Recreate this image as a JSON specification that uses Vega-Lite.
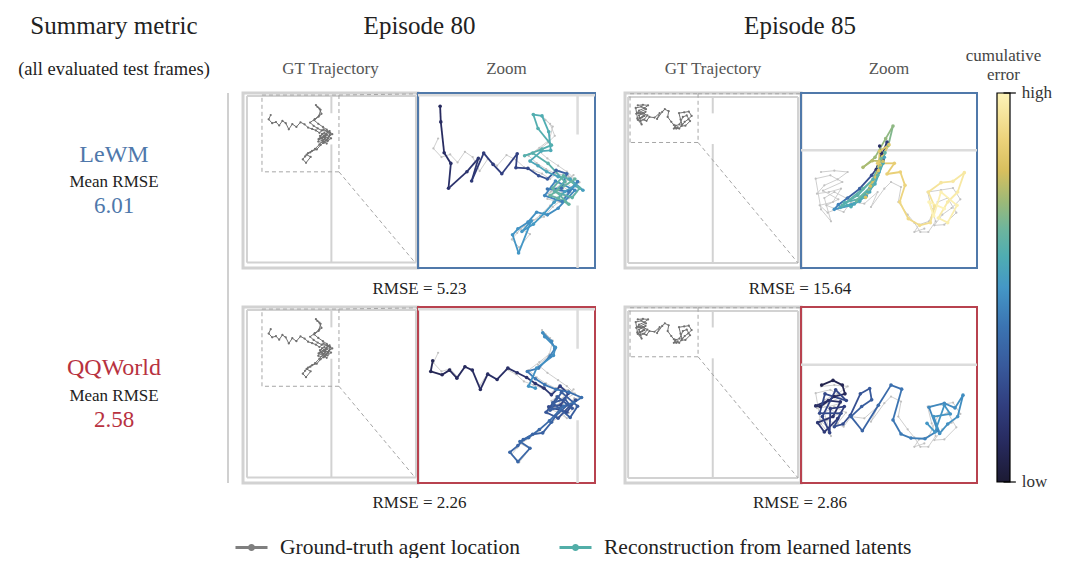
{
"$schema":"https://vega.github.io/schema/vega-lite/v6.json",
"padding":0,
"bounds":"flush",
"columns":6,
"spacing":{"row":39,"column":0},
"config":{"view":{"stroke":null},"font":"Liberation Serif"},
"datasets":{
"frame80":[{"x":-128,"y":-11,"x2":1072,"y2":1190}],
"frame85":[{"x":-39,"y":144,"x2":1327,"y2":1502}],
"walls80":[{"x":-101,"y":10,"x2":1058,"y2":10},{"x":-101,"y":1153,"x2":1058,"y2":1153},{"x":-101,"y":10,"x2":-101,"y2":1153},{"x":1058,"y":10,"x2":1058,"y2":1153},{"x":478,"y":10,"x2":478,"y2":128},{"x":478,"y":342,"x2":478,"y2":1153}],
"box80":[{"x":2,"y":3,"x2":530,"y2":3},{"x":530,"y":3,"x2":530,"y2":530},{"x":530,"y":530,"x2":2,"y2":530},{"x":2,"y":530,"x2":2,"y2":3},{"x":530,"y":530,"x2":1052,"y2":1153},{"x":530,"y":3,"x2":1072,"y2":-5}],
"walls85":[{"x":-15,"y":175,"x2":1304,"y2":175},{"x":-15,"y":1463,"x2":1304,"y2":1463},{"x":-15,"y":175,"x2":-15,"y2":1463},{"x":1304,"y":175,"x2":1304,"y2":1463},{"x":642,"y":175,"x2":642,"y2":302},{"x":642,"y":540,"x2":642,"y2":1463}],
"box85":[{"x":0,"y":150,"x2":528,"y2":150},{"x":528,"y":150,"x2":528,"y2":528},{"x":528,"y":528,"x2":0,"y2":528},{"x":0,"y":528,"x2":0,"y2":150},{"x":528,"y":528,"x2":1304,"y2":1463},{"x":528,"y":150,"x2":1327,"y2":150}],
"gt80":[{"t":0,"x":62,"y":140},{"t":1,"x":48,"y":170},{"t":2,"x":72,"y":196},{"t":3,"x":98,"y":188},{"t":4,"x":120,"y":212},{"t":5,"x":142,"y":180},{"t":6,"x":165,"y":196},{"t":7,"x":186,"y":238},{"t":8,"x":210,"y":202},{"t":9,"x":238,"y":222},{"t":10,"x":266,"y":190},{"t":11,"x":294,"y":204},{"t":12,"x":318,"y":226},{"t":13,"x":346,"y":236},{"t":14,"x":372,"y":246},{"t":15,"x":396,"y":262},{"t":16,"x":424,"y":238},{"t":17,"x":452,"y":256},{"t":18,"x":434,"y":292},{"t":19,"x":398,"y":300},{"t":20,"x":444,"y":314},{"t":21,"x":468,"y":276},{"t":22,"x":426,"y":332},{"t":23,"x":388,"y":322},{"t":24,"x":414,"y":270},{"t":25,"x":458,"y":302},{"t":26,"x":404,"y":346},{"t":27,"x":378,"y":376},{"t":28,"x":346,"y":386},{"t":29,"x":318,"y":402},{"t":30,"x":298,"y":424},{"t":31,"x":282,"y":444},{"t":32,"x":304,"y":468},{"t":33,"x":336,"y":428},{"t":34,"x":308,"y":412},{"t":35,"x":334,"y":396},{"t":36,"x":366,"y":372},{"t":37,"x":396,"y":342},{"t":38,"x":432,"y":304},{"t":39,"x":462,"y":286},{"t":40,"x":484,"y":272},{"t":41,"x":450,"y":252},{"t":42,"x":412,"y":246},{"t":43,"x":384,"y":232},{"t":44,"x":356,"y":214},{"t":45,"x":332,"y":192},{"t":46,"x":364,"y":168},{"t":47,"x":394,"y":144},{"t":48,"x":404,"y":104},{"t":49,"x":382,"y":84},{"t":50,"x":372,"y":72},{"t":51,"x":396,"y":96},{"t":52,"x":410,"y":132},{"t":53,"x":390,"y":152},{"t":54,"x":360,"y":176},{"t":55,"x":388,"y":200},{"t":56,"x":420,"y":222},{"t":57,"x":446,"y":240},{"t":58,"x":470,"y":262},{"t":59,"x":440,"y":280},{"t":60,"x":410,"y":300},{"t":61,"x":452,"y":320},{"t":62,"x":476,"y":300},{"t":63,"x":430,"y":262},{"t":64,"x":400,"y":284},{"t":65,"x":446,"y":336},{"t":66,"x":418,"y":318},{"t":67,"x":390,"y":306},{"t":68,"x":466,"y":250},{"t":69,"x":424,"y":286}],
"lewm80":[{"t":0,"x":68,"y":43,"e":0.10},{"t":1,"x":70,"y":90,"e":0.11},{"t":2,"x":80,"y":183,"e":0.12},{"t":3,"x":100,"y":215,"e":0.13},{"t":4,"x":93,"y":290,"e":0.14},{"t":5,"x":148,"y":240,"e":0.15},{"t":6,"x":182,"y":200,"e":0.16},{"t":7,"x":162,"y":268,"e":0.17},{"t":8,"x":198,"y":184,"e":0.18},{"t":9,"x":226,"y":218,"e":0.19},{"t":10,"x":252,"y":246,"e":0.20},{"t":11,"x":298,"y":186,"e":0.21},{"t":12,"x":294,"y":228,"e":0.22},{"t":13,"x":330,"y":230,"e":0.24},{"t":14,"x":362,"y":252,"e":0.27},{"t":15,"x":388,"y":262,"e":0.30},{"t":16,"x":414,"y":236,"e":0.33},{"t":17,"x":446,"y":246,"e":0.36},{"t":18,"x":430,"y":290,"e":0.38},{"t":19,"x":388,"y":292,"e":0.40},{"t":20,"x":452,"y":300,"e":0.42},{"t":21,"x":478,"y":270,"e":0.43},{"t":22,"x":432,"y":330,"e":0.44},{"t":23,"x":380,"y":312,"e":0.45},{"t":24,"x":412,"y":268,"e":0.46},{"t":25,"x":470,"y":296,"e":0.46},{"t":26,"x":420,"y":350,"e":0.47},{"t":27,"x":388,"y":370,"e":0.47},{"t":28,"x":356,"y":362,"e":0.48},{"t":29,"x":330,"y":392,"e":0.48},{"t":30,"x":300,"y":412,"e":0.49},{"t":31,"x":284,"y":430,"e":0.49},{"t":32,"x":302,"y":485,"e":0.50},{"t":33,"x":340,"y":388,"e":0.50},{"t":34,"x":312,"y":420,"e":0.50},{"t":35,"x":346,"y":398,"e":0.51},{"t":36,"x":378,"y":366,"e":0.51},{"t":37,"x":408,"y":332,"e":0.52},{"t":38,"x":440,"y":300,"e":0.52},{"t":39,"x":470,"y":282,"e":0.53},{"t":40,"x":494,"y":296,"e":0.53},{"t":41,"x":456,"y":262,"e":0.54},{"t":42,"x":420,"y":255,"e":0.54},{"t":43,"x":386,"y":240,"e":0.55},{"t":44,"x":360,"y":222,"e":0.55},{"t":45,"x":336,"y":208,"e":0.56},{"t":46,"x":370,"y":178,"e":0.57},{"t":47,"x":398,"y":176,"e":0.57},{"t":48,"x":392,"y":120,"e":0.58},{"t":49,"x":372,"y":72,"e":0.58},{"t":50,"x":346,"y":68,"e":0.59},{"t":51,"x":360,"y":110,"e":0.59},{"t":52,"x":400,"y":160,"e":0.59},{"t":53,"x":372,"y":172,"e":0.60},{"t":54,"x":320,"y":192,"e":0.60},{"t":55,"x":344,"y":184,"e":0.60},{"t":56,"x":390,"y":215,"e":0.61},{"t":57,"x":440,"y":270,"e":0.61},{"t":58,"x":410,"y":300,"e":0.61},{"t":59,"x":462,"y":318,"e":0.62},{"t":60,"x":484,"y":290,"e":0.62},{"t":61,"x":436,"y":252,"e":0.62},{"t":62,"x":404,"y":290,"e":0.63},{"t":63,"x":452,"y":338,"e":0.63},{"t":64,"x":420,"y":320,"e":0.63},{"t":65,"x":396,"y":312,"e":0.64},{"t":66,"x":470,"y":262,"e":0.64}],
"qq80":[{"t":0,"x":46,"y":164,"e":0.08},{"t":1,"x":40,"y":196,"e":0.08},{"t":2,"x":74,"y":206,"e":0.09},{"t":3,"x":96,"y":192,"e":0.09},{"t":4,"x":118,"y":216,"e":0.10},{"t":5,"x":142,"y":182,"e":0.10},{"t":6,"x":164,"y":192,"e":0.11},{"t":7,"x":188,"y":250,"e":0.11},{"t":8,"x":210,"y":204,"e":0.12},{"t":9,"x":238,"y":220,"e":0.12},{"t":10,"x":270,"y":186,"e":0.13},{"t":11,"x":298,"y":200,"e":0.13},{"t":12,"x":326,"y":214,"e":0.14},{"t":13,"x":352,"y":232,"e":0.15},{"t":14,"x":378,"y":246,"e":0.16},{"t":15,"x":400,"y":266,"e":0.18},{"t":16,"x":426,"y":240,"e":0.20},{"t":17,"x":450,"y":262,"e":0.22},{"t":18,"x":428,"y":296,"e":0.24},{"t":19,"x":392,"y":302,"e":0.25},{"t":20,"x":446,"y":318,"e":0.26},{"t":21,"x":472,"y":282,"e":0.27},{"t":22,"x":420,"y":336,"e":0.28},{"t":23,"x":384,"y":318,"e":0.29},{"t":24,"x":418,"y":272,"e":0.30},{"t":25,"x":462,"y":306,"e":0.30},{"t":26,"x":440,"y":278,"e":0.30},{"t":27,"x":404,"y":290,"e":0.31},{"t":28,"x":456,"y":334,"e":0.31},{"t":29,"x":478,"y":300,"e":0.31},{"t":30,"x":430,"y":258,"e":0.32},{"t":31,"x":396,"y":312,"e":0.32},{"t":32,"x":448,"y":296,"e":0.32},{"t":33,"x":412,"y":330,"e":0.33},{"t":34,"x":400,"y":348,"e":0.33},{"t":35,"x":374,"y":380,"e":0.33},{"t":36,"x":344,"y":384,"e":0.34},{"t":37,"x":316,"y":400,"e":0.34},{"t":38,"x":300,"y":418,"e":0.34},{"t":39,"x":276,"y":438,"e":0.35},{"t":40,"x":300,"y":466,"e":0.35},{"t":41,"x":336,"y":426,"e":0.35},{"t":42,"x":306,"y":406,"e":0.36},{"t":43,"x":332,"y":394,"e":0.36},{"t":44,"x":364,"y":370,"e":0.36},{"t":45,"x":394,"y":344,"e":0.37},{"t":46,"x":436,"y":300,"e":0.37},{"t":47,"x":466,"y":290,"e":0.38},{"t":48,"x":490,"y":274,"e":0.38},{"t":49,"x":452,"y":258,"e":0.39},{"t":50,"x":414,"y":250,"e":0.40},{"t":51,"x":380,"y":236,"e":0.40},{"t":52,"x":352,"y":218,"e":0.41},{"t":53,"x":328,"y":196,"e":0.42},{"t":54,"x":362,"y":186,"e":0.43},{"t":55,"x":396,"y":150,"e":0.44},{"t":56,"x":410,"y":128,"e":0.45},{"t":57,"x":400,"y":106,"e":0.46},{"t":58,"x":374,"y":80,"e":0.47},{"t":59,"x":380,"y":92,"e":0.47},{"t":60,"x":412,"y":124,"e":0.48},{"t":61,"x":406,"y":148,"e":0.48},{"t":62,"x":356,"y":186,"e":0.48},{"t":63,"x":332,"y":240,"e":0.49},{"t":64,"x":352,"y":246,"e":0.49}],
"gt85":[{"t":0,"x":60,"y":240},{"t":1,"x":100,"y":236},{"t":2,"x":140,"y":240},{"t":3,"x":110,"y":262},{"t":4,"x":70,"y":280},{"t":5,"x":48,"y":305},{"t":6,"x":84,"y":300},{"t":7,"x":120,"y":290},{"t":8,"x":96,"y":330},{"t":9,"x":56,"y":340},{"t":10,"x":80,"y":362},{"t":11,"x":110,"y":350},{"t":12,"x":135,"y":318},{"t":13,"x":100,"y":300},{"t":14,"x":70,"y":318},{"t":15,"x":90,"y":388},{"t":16,"x":60,"y":352},{"t":17,"x":44,"y":260},{"t":18,"x":88,"y":250},{"t":19,"x":124,"y":270},{"t":20,"x":66,"y":296},{"t":21,"x":112,"y":322},{"t":22,"x":76,"y":340},{"t":23,"x":128,"y":360},{"t":24,"x":150,"y":330},{"t":25,"x":190,"y":335},{"t":26,"x":230,"y":300},{"t":27,"x":210,"y":345},{"t":28,"x":250,"y":290},{"t":29,"x":270,"y":270},{"t":30,"x":300,"y":285},{"t":31,"x":292,"y":330},{"t":32,"x":320,"y":368},{"t":33,"x":340,"y":392},{"t":34,"x":358,"y":420},{"t":35,"x":382,"y":420},{"t":36,"x":404,"y":388},{"t":37,"x":392,"y":350},{"t":38,"x":380,"y":300},{"t":39,"x":420,"y":294},{"t":40,"x":456,"y":288},{"t":41,"x":478,"y":322},{"t":42,"x":452,"y":348},{"t":43,"x":424,"y":368},{"t":44,"x":400,"y":400},{"t":45,"x":430,"y":398},{"t":46,"x":466,"y":362},{"t":47,"x":440,"y":318},{"t":48,"x":410,"y":330},{"t":49,"x":384,"y":388},{"t":50,"x":354,"y":398},{"t":51,"x":340,"y":420},{"t":52,"x":370,"y":410}],
"lewm85":[{"t":0,"x":236,"y":162,"e":0.12},{"t":1,"x":242,"y":184,"e":0.13},{"t":2,"x":226,"y":232,"e":0.15},{"t":3,"x":258,"y":150,"e":0.17},{"t":4,"x":246,"y":204,"e":0.20},{"t":5,"x":212,"y":250,"e":0.26},{"t":6,"x":176,"y":290,"e":0.32},{"t":7,"x":140,"y":318,"e":0.38},{"t":8,"x":112,"y":338,"e":0.44},{"t":9,"x":100,"y":352,"e":0.48},{"t":10,"x":150,"y":340,"e":0.50},{"t":11,"x":196,"y":312,"e":0.52},{"t":12,"x":234,"y":240,"e":0.53},{"t":13,"x":250,"y":196,"e":0.54},{"t":14,"x":206,"y":300,"e":0.55},{"t":15,"x":160,"y":336,"e":0.55},{"t":16,"x":118,"y":346,"e":0.56},{"t":17,"x":176,"y":328,"e":0.56},{"t":18,"x":222,"y":276,"e":0.57},{"t":19,"x":246,"y":214,"e":0.57},{"t":20,"x":200,"y":300,"e":0.58},{"t":21,"x":150,"y":344,"e":0.58},{"t":22,"x":130,"y":332,"e":0.59},{"t":23,"x":192,"y":316,"e":0.59},{"t":24,"x":238,"y":228,"e":0.60},{"t":25,"x":216,"y":262,"e":0.60},{"t":26,"x":170,"y":310,"e":0.61},{"t":27,"x":124,"y":340,"e":0.61},{"t":28,"x":186,"y":290,"e":0.62},{"t":29,"x":230,"y":250,"e":0.62},{"t":30,"x":252,"y":182,"e":0.63},{"t":31,"x":214,"y":280,"e":0.63},{"t":32,"x":166,"y":326,"e":0.64},{"t":33,"x":206,"y":288,"e":0.65},{"t":34,"x":240,"y":200,"e":0.66},{"t":35,"x":262,"y":160,"e":0.68},{"t":36,"x":276,"y":102,"e":0.70},{"t":37,"x":254,"y":140,"e":0.71},{"t":38,"x":222,"y":196,"e":0.72},{"t":39,"x":186,"y":226,"e":0.74},{"t":40,"x":214,"y":206,"e":0.76},{"t":41,"x":246,"y":208,"e":0.78},{"t":42,"x":208,"y":282,"e":0.80},{"t":43,"x":194,"y":316,"e":0.81},{"t":44,"x":232,"y":236,"e":0.82},{"t":45,"x":236,"y":178,"e":0.83},{"t":46,"x":264,"y":158,"e":0.84},{"t":47,"x":230,"y":214,"e":0.85},{"t":48,"x":280,"y":214,"e":0.86},{"t":49,"x":258,"y":246,"e":0.87},{"t":50,"x":298,"y":240,"e":0.88},{"t":51,"x":312,"y":280,"e":0.89},{"t":52,"x":296,"y":330,"e":0.90},{"t":53,"x":322,"y":380,"e":0.91},{"t":54,"x":356,"y":400,"e":0.92},{"t":55,"x":388,"y":392,"e":0.93},{"t":56,"x":400,"y":342,"e":0.94},{"t":57,"x":382,"y":300,"e":0.94},{"t":58,"x":420,"y":272,"e":0.95},{"t":59,"x":456,"y":268,"e":0.96},{"t":60,"x":490,"y":242,"e":0.96},{"t":61,"x":470,"y":300,"e":0.97},{"t":62,"x":440,"y":330,"e":0.97},{"t":63,"x":412,"y":378,"e":0.98},{"t":64,"x":440,"y":392,"e":0.98},{"t":65,"x":468,"y":340,"e":0.99},{"t":66,"x":420,"y":300,"e":0.99},{"t":67,"x":398,"y":372,"e":1.0},{"t":68,"x":384,"y":330,"e":1.0},{"t":69,"x":430,"y":350,"e":1.0}],
"qq85":[{"t":0,"x":62,"y":236,"e":0.06},{"t":1,"x":96,"y":222,"e":0.07},{"t":2,"x":124,"y":236,"e":0.08},{"t":3,"x":132,"y":262,"e":0.09},{"t":4,"x":100,"y":270,"e":0.10},{"t":5,"x":58,"y":300,"e":0.11},{"t":6,"x":44,"y":298,"e":0.12},{"t":7,"x":82,"y":282,"e":0.13},{"t":8,"x":118,"y":286,"e":0.14},{"t":9,"x":96,"y":330,"e":0.15},{"t":10,"x":50,"y":348,"e":0.16},{"t":11,"x":70,"y":376,"e":0.17},{"t":12,"x":110,"y":336,"e":0.18},{"t":13,"x":130,"y":300,"e":0.19},{"t":14,"x":88,"y":306,"e":0.20},{"t":15,"x":86,"y":378,"e":0.21},{"t":16,"x":64,"y":330,"e":0.22},{"t":17,"x":104,"y":250,"e":0.22},{"t":18,"x":136,"y":282,"e":0.23},{"t":19,"x":72,"y":262,"e":0.23},{"t":20,"x":56,"y":320,"e":0.24},{"t":21,"x":120,"y":320,"e":0.24},{"t":22,"x":100,"y":360,"e":0.25},{"t":23,"x":126,"y":352,"e":0.25},{"t":24,"x":148,"y":326,"e":0.26},{"t":25,"x":178,"y":262,"e":0.28},{"t":26,"x":206,"y":246,"e":0.30},{"t":27,"x":212,"y":280,"e":0.31},{"t":28,"x":182,"y":300,"e":0.32},{"t":29,"x":150,"y":330,"e":0.33},{"t":30,"x":184,"y":372,"e":0.34},{"t":31,"x":232,"y":296,"e":0.36},{"t":32,"x":270,"y":236,"e":0.38},{"t":33,"x":302,"y":248,"e":0.40},{"t":34,"x":276,"y":340,"e":0.41},{"t":35,"x":300,"y":382,"e":0.42},{"t":36,"x":330,"y":394,"e":0.43},{"t":37,"x":372,"y":396,"e":0.44},{"t":38,"x":410,"y":372,"e":0.45},{"t":39,"x":384,"y":302,"e":0.46},{"t":40,"x":430,"y":290,"e":0.46},{"t":41,"x":462,"y":304,"e":0.47},{"t":42,"x":486,"y":266,"e":0.47},{"t":43,"x":470,"y":330,"e":0.48},{"t":44,"x":440,"y":352,"e":0.48},{"t":45,"x":416,"y":380,"e":0.48},{"t":46,"x":398,"y":330,"e":0.49},{"t":47,"x":448,"y":322,"e":0.49},{"t":48,"x":430,"y":296,"e":0.49},{"t":49,"x":402,"y":376,"e":0.50},{"t":50,"x":378,"y":350,"e":0.50}]
},
"concat":[
{"width":228,"height":54,"data":{"values":[{"title":"Summary metric","sub":"(all evaluated test frames)"}]},"layer":[
 {"mark":{"type":"text","font":"Liberation Serif","fontSize":25,"color":"#222222","baseline":"middle","dy":-1},"encoding":{"text":{"field":"title"}}},
 {"mark":{"type":"text","font":"Liberation Serif","fontSize":18.5,"color":"#222222","baseline":"middle","dy":42},"encoding":{"text":{"field":"sub"}}}
]},
{"width":190,"height":54,"data":{"values":[{"title":"Episode 80","panel":"GT Trajectory"}]},"layer":[
 {"mark":{"type":"text","font":"Liberation Serif","fontSize":25,"color":"#222222","baseline":"middle","dy":-1,"dx":1.5},"encoding":{"x":{"value":"width"},"text":{"field":"title"}}},
 {"mark":{"type":"text","font":"Liberation Serif","fontSize":17,"color":"#555555","baseline":"middle","dy":42,"dx":7.5},"encoding":{"text":{"field":"panel"}}}
]},
{"width":177,"height":54,"data":{"values":[{"panel":"Zoom"}]},"mark":{"type":"text","font":"Liberation Serif","fontSize":17,"color":"#555555","baseline":"middle","dy":42},"encoding":{"text":{"field":"panel"}}},
{"width":206,"height":54,"data":{"values":[{"title":"Episode 85","panel":"GT Trajectory"}]},"layer":[
 {"mark":{"type":"text","font":"Liberation Serif","fontSize":25,"color":"#222222","baseline":"middle","dy":-1,"dx":-1},"encoding":{"x":{"value":"width"},"text":{"field":"title"}}},
 {"mark":{"type":"text","font":"Liberation Serif","fontSize":17,"color":"#555555","baseline":"middle","dy":42,"dx":15},"encoding":{"text":{"field":"panel"}}}
]},
{"width":176,"height":54,"data":{"values":[{"panel":"Zoom"}]},"mark":{"type":"text","font":"Liberation Serif","fontSize":17,"color":"#555555","baseline":"middle","dy":42},"encoding":{"text":{"field":"panel"}}},
{"width":33,"height":54,"data":{"values":[{"a":"cumulative","b":"error"}]},"layer":[
 {"mark":{"type":"text","font":"Liberation Serif","fontSize":17,"color":"#444444","baseline":"middle","dy":29,"dx":10},"encoding":{"text":{"field":"a"}}},
 {"mark":{"type":"text","font":"Liberation Serif","fontSize":17,"color":"#444444","baseline":"middle","dy":48,"dx":10},"encoding":{"text":{"field":"b"}}}
]},
{"width":228,"height":175,"data":{"values":[{"model":"LeWM","mean_rmse":6.01}]},"layer":[
 {"mark":{"type":"rule","color":"#d0d0d0","strokeWidth":2},"encoding":{"x":{"value":"width"},"y":{"datum":1,"type":"quantitative","scale":{"domain":[0,1],"nice":false,"zero":false},"axis":null},"y2":{"datum":-0.223}}},
 {"mark":{"type":"text","font":"Liberation Serif","fontSize":24,"baseline":"middle","dy":-26},"encoding":{"text":{"field":"model"},"fill":{"field":"model","type":"nominal","scale":{"domain":["LeWM","QQWorld"],"range":["#4f78ab","#b8323f"]},"legend":null}}},
 {"mark":{"type":"text","font":"Liberation Serif","fontSize":17,"color":"#222222","baseline":"middle","dy":1.5,"text":"Mean RMSE"},"encoding":{}},
 {"mark":{"type":"text","font":"Liberation Serif","fontSize":23,"baseline":"middle","dy":25.5},"encoding":{"text":{"field":"mean_rmse","type":"quantitative","format":".2f"},"fill":{"field":"model","type":"nominal","scale":{"domain":["LeWM","QQWorld"],"range":["#4f78ab","#b8323f"]},"legend":null}}}
]},
{"width":190,"height":175,
 "encoding":{"x":{"field":"x","type":"quantitative","scale":{"domain":[-231,1072],"nice":false,"zero":false},"axis":null},"y":{"field":"y","type":"quantitative","scale":{"domain":[-11,1190],"nice":false,"zero":false,"reverse":true},"axis":null}},
 "layer":[
  {"data":{"name":"frame80"},"mark":{"type":"rect","filled":false,"color":"#d2d2d2","strokeWidth":3},"encoding":{"x2":{"field":"x2"},"y2":{"field":"y2"}}},
  {"data":{"name":"walls80"},"mark":{"type":"rule","color":"#d2d2d2","strokeWidth":2},"encoding":{"x2":{"field":"x2"},"y2":{"field":"y2"}}},
  {"data":{"name":"box80"},"mark":{"type":"rule","color":"#a6a6a6","strokeWidth":1,"strokeDash":[4,3]},"encoding":{"x2":{"field":"x2"},"y2":{"field":"y2"}}},
  {"data":{"name":"gt80"},"mark":{"type":"line","color":"#707070","strokeWidth":1},"encoding":{"order":{"field":"t","type":"quantitative"}}},
  {"data":{"name":"gt80"},"mark":{"type":"point","filled":true,"color":"#707070","size":5,"opacity":1}}
 ]},
{"width":177,"height":175,"view":{"stroke":"#5079aa","strokeWidth":2},
 "encoding":{"x":{"field":"x","type":"quantitative","scale":{"domain":[2,530],"nice":false,"zero":false},"axis":null},"y":{"field":"y","type":"quantitative","scale":{"domain":[3,530],"nice":false,"zero":false,"reverse":true},"axis":null}},
 "layer":[
  {"data":{"name":"walls80"},"mark":{"type":"rule","color":"#dcdcdc","strokeWidth":2.5,"clip":true},"encoding":{"x2":{"field":"x2"},"y2":{"field":"y2"}}},
  {"data":{"name":"gt80"},"mark":{"type":"line","color":"#c8c8c8","strokeWidth":0.9,"clip":true},"encoding":{"order":{"field":"t","type":"quantitative"}}},
  {"data":{"name":"gt80"},"mark":{"type":"point","filled":true,"color":"#c0c0c0","size":5,"opacity":1,"clip":true}},
  {"data":{"name":"lewm80"},"transform":[{"window":[{"op":"lead","field":"x","as":"x2"},{"op":"lead","field":"y","as":"y2"}],"sort":[{"field":"t","order":"ascending"}]},{"filter":"isValid(datum.x2)"}],
   "mark":{"type":"rule","strokeWidth":1.8,"clip":true},
   "encoding":{"x2":{"field":"x2"},"y2":{"field":"y2"},"color":{"field":"e","type":"quantitative","scale":{"domain":[0,0.1,0.2,0.3,0.4,0.5,0.58,0.65,0.72,0.8,0.88,1],"range":["#1c1a33","#272a5e","#313f80","#385a9c","#3b74b2","#4497c6","#4fadb2","#6db59d","#9cb978","#d7bf5e","#ecd27a","#fdf3b8"],"interpolate":"rgb"},"legend":null}}},
  {"data":{"name":"lewm80"},"mark":{"type":"point","filled":true,"size":13,"opacity":1,"clip":true},"encoding":{"color":{"field":"e","type":"quantitative","legend":null}}},
  {"data":{"values":[{"label":"RMSE = 5.23"}]},"mark":{"type":"text","font":"Liberation Serif","fontSize":17,"color":"#222222","baseline":"middle","dy":21,"dx":1.5},"encoding":{"x":{"value":0},"y":{"value":"height"},"text":{"field":"label"}}}
 ]},
{"width":206,"height":175,
 "encoding":{"x":{"field":"x","type":"quantitative","scale":{"domain":[-272,1327],"nice":false,"zero":false},"axis":null},"y":{"field":"y","type":"quantitative","scale":{"domain":[144,1502],"nice":false,"zero":false,"reverse":true},"axis":null}},
 "layer":[
  {"data":{"name":"frame85"},"mark":{"type":"rect","filled":false,"color":"#d2d2d2","strokeWidth":3},"encoding":{"x2":{"field":"x2"},"y2":{"field":"y2"}}},
  {"data":{"name":"walls85"},"mark":{"type":"rule","color":"#d2d2d2","strokeWidth":2},"encoding":{"x2":{"field":"x2"},"y2":{"field":"y2"}}},
  {"data":{"name":"box85"},"mark":{"type":"rule","color":"#a6a6a6","strokeWidth":1,"strokeDash":[4,3]},"encoding":{"x2":{"field":"x2"},"y2":{"field":"y2"}}},
  {"data":{"name":"gt85"},"mark":{"type":"line","color":"#707070","strokeWidth":1},"encoding":{"order":{"field":"t","type":"quantitative"}}},
  {"data":{"name":"gt85"},"mark":{"type":"point","filled":true,"color":"#707070","size":5,"opacity":1}}
 ]},
{"width":176,"height":175,"view":{"stroke":"#5079aa","strokeWidth":2},
 "encoding":{"x":{"field":"x","type":"quantitative","scale":{"domain":[0,528],"nice":false,"zero":false},"axis":null},"y":{"field":"y","type":"quantitative","scale":{"domain":[3,528],"nice":false,"zero":false,"reverse":true},"axis":null}},
 "layer":[
  {"data":{"name":"walls85"},"mark":{"type":"rule","color":"#dcdcdc","strokeWidth":2.5,"clip":true},"encoding":{"x2":{"field":"x2"},"y2":{"field":"y2"}}},
  {"data":{"name":"gt85"},"mark":{"type":"line","color":"#c8c8c8","strokeWidth":0.9,"clip":true},"encoding":{"order":{"field":"t","type":"quantitative"}}},
  {"data":{"name":"gt85"},"mark":{"type":"point","filled":true,"color":"#c0c0c0","size":5,"opacity":1,"clip":true}},
  {"data":{"name":"lewm85"},"transform":[{"window":[{"op":"lead","field":"x","as":"x2"},{"op":"lead","field":"y","as":"y2"}],"sort":[{"field":"t","order":"ascending"}]},{"filter":"isValid(datum.x2)"}],
   "mark":{"type":"rule","strokeWidth":1.8,"clip":true},
   "encoding":{"x2":{"field":"x2"},"y2":{"field":"y2"},"color":{"field":"e","type":"quantitative","legend":null}}},
  {"data":{"name":"lewm85"},"mark":{"type":"point","filled":true,"size":13,"opacity":1,"clip":true},"encoding":{"color":{"field":"e","type":"quantitative","legend":null}}},
  {"data":{"values":[{"label":"RMSE = 15.64"}]},"mark":{"type":"text","font":"Liberation Serif","fontSize":17,"color":"#222222","baseline":"middle","dy":21,"dx":-1},"encoding":{"x":{"value":0},"y":{"value":"height"},"text":{"field":"label"}}}
 ]},
{"width":33,"height":175,"layer":[
  {"data":{"values":[{"lo":0,"hi":1}]},
   "mark":{"type":"rect","stroke":"#000000","strokeWidth":1.2,"fill":{"gradient":"linear","x1":0,"y1":1,"x2":0,"y2":0,"stops":[{"offset":0,"color":"#1c1a33"},{"offset":0.1,"color":"#272a5e"},{"offset":0.2,"color":"#313f80"},{"offset":0.3,"color":"#385a9c"},{"offset":0.4,"color":"#3b74b2"},{"offset":0.5,"color":"#4497c6"},{"offset":0.58,"color":"#4fadb2"},{"offset":0.65,"color":"#6db59d"},{"offset":0.72,"color":"#9cb978"},{"offset":0.8,"color":"#d7bf5e"},{"offset":0.88,"color":"#ecd27a"},{"offset":1,"color":"#fdf3b8"}]}},
   "encoding":{"x":{"datum":0,"type":"quantitative","scale":{"domain":[-1.538,1],"nice":false,"zero":false},"axis":null},"x2":{"datum":1},"y":{"field":"lo","type":"quantitative","scale":{"domain":[0.55013,1],"nice":false,"zero":false},"axis":null},"y2":{"field":"hi"}}},
  {"data":{"values":[{"v":0},{"v":1}]},"mark":{"type":"rule","color":"#000000","strokeWidth":1.2},"encoding":{"x":{"datum":0.5,"type":"quantitative"},"x2":{"datum":1.45},"y":{"field":"v","type":"quantitative"}}},
  {"data":{"values":[{"v":1,"label":"high"},{"v":0,"label":"low"}]},"mark":{"type":"text","font":"Liberation Serif","fontSize":17,"color":"#333333","align":"left","baseline":"middle","dx":6},"encoding":{"x":{"datum":1.45,"type":"quantitative"},"y":{"field":"v","type":"quantitative"},"text":{"field":"label"}}}
 ]},
{"width":228,"height":176,"data":{"values":[{"model":"QQWorld","mean_rmse":2.58}]},"layer":[
 {"mark":{"type":"rule","color":"#d0d0d0","strokeWidth":2},"encoding":{"x":{"value":"width"},"y":{"datum":1,"type":"quantitative","scale":{"domain":[0,1],"nice":false,"zero":false},"axis":null},"y2":{"datum":0}}},
 {"mark":{"type":"text","font":"Liberation Serif","fontSize":24,"baseline":"middle","dy":-27},"encoding":{"text":{"field":"model"},"fill":{"field":"model","type":"nominal","scale":{"domain":["LeWM","QQWorld"],"range":["#4f78ab","#b8323f"]},"legend":null}}},
 {"mark":{"type":"text","font":"Liberation Serif","fontSize":17,"color":"#222222","baseline":"middle","dy":1,"text":"Mean RMSE"},"encoding":{}},
 {"mark":{"type":"text","font":"Liberation Serif","fontSize":23,"baseline":"middle","dy":25},"encoding":{"text":{"field":"mean_rmse","type":"quantitative","format":".2f"},"fill":{"field":"model","type":"nominal","scale":{"domain":["LeWM","QQWorld"],"range":["#4f78ab","#b8323f"]},"legend":null}}},
 {"data":{"values":[{"series":"Ground-truth agent location"},{"series":"Reconstruction from learned latents"}]},
  "mark":{"type":"point","filled":false,"opacity":0},
  "encoding":{"stroke":{"field":"series","type":"nominal","sort":null,"scale":{"range":["#7f7f7f","#52aea8"]},
   "legend":{"title":null,"orient":"none","legendX":234,"legendY":530,"direction":"horizontal","symbolType":"M-1,0L1,0M0.13,0A0.13,0.13,0,1,1,-0.13,0A0.13,0.13,0,1,1,0.13,0","symbolSize":1024,"symbolStrokeWidth":3,"symbolOpacity":1,"labelFont":"Liberation Serif","labelFontSize":21.5,"labelColor":"#222222","labelOffset":11,"columnPadding":32,"padding":0,"labelLimit":500}}}}
]},
{"width":190,"height":176,
 "encoding":{"x":{"field":"x","type":"quantitative","scale":{"domain":[-231,1072],"nice":false,"zero":false},"axis":null},"y":{"field":"y","type":"quantitative","scale":{"domain":[-11,1190],"nice":false,"zero":false,"reverse":true},"axis":null}},
 "layer":[
  {"data":{"name":"frame80"},"mark":{"type":"rect","filled":false,"color":"#d2d2d2","strokeWidth":3},"encoding":{"x2":{"field":"x2"},"y2":{"field":"y2"}}},
  {"data":{"name":"walls80"},"mark":{"type":"rule","color":"#d2d2d2","strokeWidth":2},"encoding":{"x2":{"field":"x2"},"y2":{"field":"y2"}}},
  {"data":{"name":"box80"},"mark":{"type":"rule","color":"#a6a6a6","strokeWidth":1,"strokeDash":[4,3]},"encoding":{"x2":{"field":"x2"},"y2":{"field":"y2"}}},
  {"data":{"name":"gt80"},"mark":{"type":"line","color":"#707070","strokeWidth":1},"encoding":{"order":{"field":"t","type":"quantitative"}}},
  {"data":{"name":"gt80"},"mark":{"type":"point","filled":true,"color":"#707070","size":5,"opacity":1}}
 ]},
{"width":177,"height":176,"view":{"stroke":"#b8424f","strokeWidth":2},
 "encoding":{"x":{"field":"x","type":"quantitative","scale":{"domain":[2,530],"nice":false,"zero":false},"axis":null},"y":{"field":"y","type":"quantitative","scale":{"domain":[3,530],"nice":false,"zero":false,"reverse":true},"axis":null}},
 "layer":[
  {"data":{"name":"walls80"},"mark":{"type":"rule","color":"#dcdcdc","strokeWidth":2.5,"clip":true},"encoding":{"x2":{"field":"x2"},"y2":{"field":"y2"}}},
  {"data":{"name":"gt80"},"mark":{"type":"line","color":"#c8c8c8","strokeWidth":0.9,"clip":true},"encoding":{"order":{"field":"t","type":"quantitative"}}},
  {"data":{"name":"gt80"},"mark":{"type":"point","filled":true,"color":"#c0c0c0","size":5,"opacity":1,"clip":true}},
  {"data":{"name":"qq80"},"transform":[{"window":[{"op":"lead","field":"x","as":"x2"},{"op":"lead","field":"y","as":"y2"}],"sort":[{"field":"t","order":"ascending"}]},{"filter":"isValid(datum.x2)"}],
   "mark":{"type":"rule","strokeWidth":1.8,"clip":true},
   "encoding":{"x2":{"field":"x2"},"y2":{"field":"y2"},"color":{"field":"e","type":"quantitative","legend":null}}},
  {"data":{"name":"qq80"},"mark":{"type":"point","filled":true,"size":13,"opacity":1,"clip":true},"encoding":{"color":{"field":"e","type":"quantitative","legend":null}}},
  {"data":{"values":[{"label":"RMSE = 2.26"}]},"mark":{"type":"text","font":"Liberation Serif","fontSize":17,"color":"#222222","baseline":"middle","dy":20,"dx":1.5},"encoding":{"x":{"value":0},"y":{"value":"height"},"text":{"field":"label"}}}
 ]},
{"width":206,"height":176,
 "encoding":{"x":{"field":"x","type":"quantitative","scale":{"domain":[-272,1327],"nice":false,"zero":false},"axis":null},"y":{"field":"y","type":"quantitative","scale":{"domain":[144,1502],"nice":false,"zero":false,"reverse":true},"axis":null}},
 "layer":[
  {"data":{"name":"frame85"},"mark":{"type":"rect","filled":false,"color":"#d2d2d2","strokeWidth":3},"encoding":{"x2":{"field":"x2"},"y2":{"field":"y2"}}},
  {"data":{"name":"walls85"},"mark":{"type":"rule","color":"#d2d2d2","strokeWidth":2},"encoding":{"x2":{"field":"x2"},"y2":{"field":"y2"}}},
  {"data":{"name":"box85"},"mark":{"type":"rule","color":"#a6a6a6","strokeWidth":1,"strokeDash":[4,3]},"encoding":{"x2":{"field":"x2"},"y2":{"field":"y2"}}},
  {"data":{"name":"gt85"},"mark":{"type":"line","color":"#707070","strokeWidth":1},"encoding":{"order":{"field":"t","type":"quantitative"}}},
  {"data":{"name":"gt85"},"mark":{"type":"point","filled":true,"color":"#707070","size":5,"opacity":1}}
 ]},
{"width":176,"height":176,"view":{"stroke":"#b8424f","strokeWidth":2},
 "encoding":{"x":{"field":"x","type":"quantitative","scale":{"domain":[0,528],"nice":false,"zero":false},"axis":null},"y":{"field":"y","type":"quantitative","scale":{"domain":[3,528],"nice":false,"zero":false,"reverse":true},"axis":null}},
 "layer":[
  {"data":{"name":"walls85"},"mark":{"type":"rule","color":"#dcdcdc","strokeWidth":2.5,"clip":true},"encoding":{"x2":{"field":"x2"},"y2":{"field":"y2"}}},
  {"data":{"name":"gt85"},"mark":{"type":"line","color":"#c8c8c8","strokeWidth":0.9,"clip":true},"encoding":{"order":{"field":"t","type":"quantitative"}}},
  {"data":{"name":"gt85"},"mark":{"type":"point","filled":true,"color":"#c0c0c0","size":5,"opacity":1,"clip":true}},
  {"data":{"name":"qq85"},"transform":[{"window":[{"op":"lead","field":"x","as":"x2"},{"op":"lead","field":"y","as":"y2"}],"sort":[{"field":"t","order":"ascending"}]},{"filter":"isValid(datum.x2)"}],
   "mark":{"type":"rule","strokeWidth":1.8,"clip":true},
   "encoding":{"x2":{"field":"x2"},"y2":{"field":"y2"},"color":{"field":"e","type":"quantitative","legend":null}}},
  {"data":{"name":"qq85"},"mark":{"type":"point","filled":true,"size":13,"opacity":1,"clip":true},"encoding":{"color":{"field":"e","type":"quantitative","legend":null}}},
  {"data":{"values":[{"label":"RMSE = 2.86"}]},"mark":{"type":"text","font":"Liberation Serif","fontSize":17,"color":"#222222","baseline":"middle","dy":20,"dx":-1},"encoding":{"x":{"value":0},"y":{"value":"height"},"text":{"field":"label"}}}
 ]}
]
}
